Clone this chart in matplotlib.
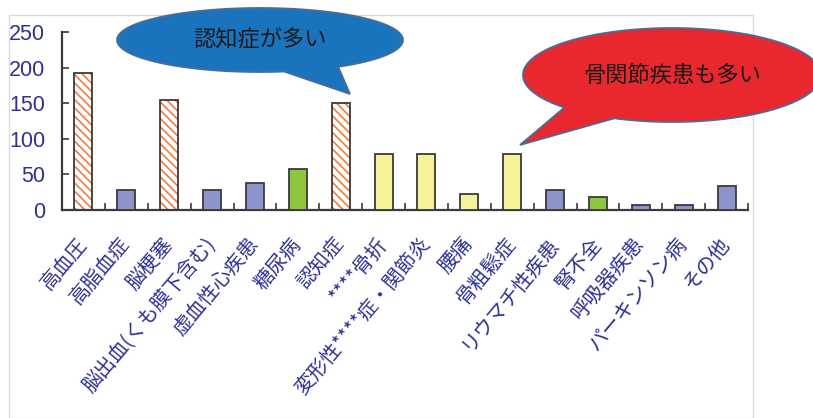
import numpy as np
import matplotlib
matplotlib.use('Agg')
from matplotlib import pyplot as plt
from matplotlib.patches import Rectangle, Polygon

# dpi
my_dpi = 100

# data
categories = ['高血圧', '高脂血症', '脳梗塞', '脳出血(くも膜下含む)', '虚血性心疾患',
              '糖尿病', '認知症', '****骨折', '変形性****症・関節炎', '腰痛',
              '骨粗鬆症', 'リウマチ性疾患', '腎不全', '呼吸器疾患', 'パーキンソン病', 'その他']
values = [192, 28, 155, 28, 38, 58, 150, 78, 78, 22, 78, 28, 18, 7, 7, 34]
groups = ['h', 'b', 'h', 'b', 'b', 'g', 'h', 'y', 'y', 'y', 'y', 'b', 'g', 'b', 'b', 'b']
yticks = [0, 50, 100, 150, 200, 250]

fills = {'b': '#8c94cb', 'g': '#8dc63f', 'y': '#f6f29a', 'h': 'white'}
navy = '#2e3192'
jp = ['Noto Sans CJK JP', 'DejaVu Sans']

W, H = 813, 418
fig = plt.figure(figsize=(W/my_dpi, H/my_dpi), dpi=my_dpi)

# light frame round the chart
fig.patches.append(Rectangle((9/W, 0), 744/W, 1 - 15/H, transform=fig.transFigure,
                             fill=False, edgecolor='#dcdcdc', linewidth=1.0))

ax = fig.add_axes([62/W, 1 - 210/H, 686/W, 178/H])
x = np.arange(len(categories))

plt.rcParams['hatch.linewidth'] = 1.2
for i in range(len(x)):
  g = groups[i]
  if g == 'h':
    ax.bar(x[i], values[i], width=0.42, color='white', edgecolor='#f47a3e',
           hatch='\\\\\\\\', linewidth=0, zorder=2)
    ax.bar(x[i], values[i], width=0.42, fill=False, edgecolor='#3a3a3a',
           linewidth=1.3, zorder=3)
  else:
    ax.bar(x[i], values[i], width=0.42, color=fills[g], edgecolor='#3a3a3a',
           linewidth=1.3, zorder=3)

ax.set_xlim(-0.5, len(x) - 0.5)
ax.set_ylim(0, 250)
ax.set_yticks(yticks)
ax.set_yticklabels([str(v) for v in yticks], color=navy, fontsize=15.5,
                   family='Liberation Sans')
ax.set_xticks(x)
ax.set_xticklabels(categories, rotation=50, ha='right', va='center',
                   rotation_mode='anchor', color=navy, fontsize=14.5, family=jp)
ax.set_xticks(np.arange(len(x) + 1) - 0.5, minor=True)
ax.tick_params(axis='x', which='major', length=0, pad=22)
ax.tick_params(axis='x', which='minor', direction='in', length=5, width=1.2, color='#3a3a3a')
ax.tick_params(axis='y', direction='in', length=5, width=1.2, color='#3a3a3a', pad=12)
for s in ['top', 'right']:
  ax.spines[s].set_visible(False)
for s in ['left', 'bottom']:
  ax.spines[s].set_color('#3a3a3a')
  ax.spines[s].set_linewidth(1.6)


# speech bubbles drawn in pixel space, then mapped to figure fraction
def bubble(cx, cy, a, b, base1, base2, tip, face, text):
  t = np.linspace(0, 2*np.pi, 400)
  def ang(p):
    return np.arctan2((p[1] - cy)/b, (p[0] - cx)/a) % (2*np.pi)
  t1, t2 = ang(base1), ang(base2)
  lo, hi = min(t1, t2), max(t1, t2)
  keep = (t < lo) | (t > hi)
  tt = t[keep]
  tt = np.where(tt > hi, tt - 2*np.pi, tt)
  tt = np.sort(tt)
  pts = [(cx + a*np.cos(v), cy + b*np.sin(v)) for v in tt]
  pts.append(tip)
  pts = [(px/W, 1 - py/H) for px, py in pts]
  fig.patches.append(Polygon(pts, closed=True, transform=fig.transFigure,
                             facecolor=face, edgecolor='#4a6d94', linewidth=1.3,
                             zorder=5))
  fig.text(cx/W, 1 - cy/H, text, ha='center', va='center', fontsize=16,
           color='#1a1a1a', family=jp, zorder=6)

bubble(260, 40, 143, 32, (284, 71), (335, 66), (350, 94), '#1a74bd', '認知症が多い')
bubble(672, 75, 149, 47, (563, 108), (613, 118), (520, 145), '#e8282e', '骨関節疾患も多い')

plt.savefig('out.png', dpi=my_dpi)
